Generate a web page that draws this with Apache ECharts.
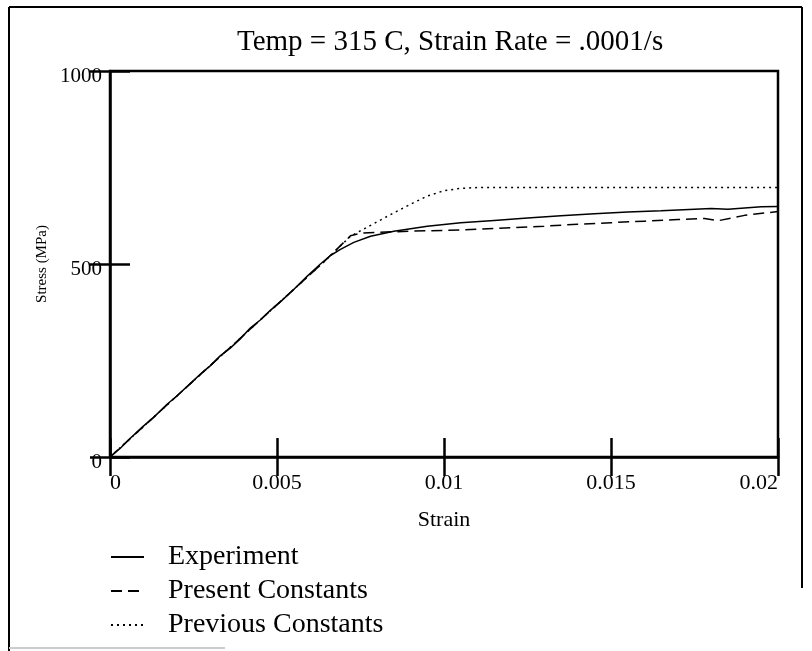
<!DOCTYPE html>
<html>
<head>
<meta charset="utf-8">
<script src="https://cdn.jsdelivr.net/npm/echarts@6/dist/echarts.min.js"></script>
<style>
html,body{margin:0;padding:0;background:#fff;}
#c{width:812px;height:651px;}
</style>
</head>
<body>
<div id="c"></div>
<script>
const titleText = 'Temp = 315 C, Strain Rate = .0001/s';
const xTickLabels = ['0', '0.005', '0.01', '0.015', '0.02'];
const yTickLabels = ['0', '500', '1000'];
const seriesNames = ['Experiment', 'Present Constants', 'Previous Constants'];

const expStrain = [0, 0.0003, 0.0006, 0.001, 0.0013, 0.0017, 0.002, 0.0024, 0.0028, 0.003, 0.0033, 0.0036, 0.0039, 0.0042, 0.0045, 0.0048, 0.0051, 0.0055, 0.0059, 0.0063, 0.0066, 0.0069, 0.0073, 0.0078, 0.0085, 0.0095, 0.0105, 0.0115, 0.0125, 0.0135, 0.0145, 0.0155, 0.0165, 0.0175, 0.018, 0.0185, 0.019, 0.0195, 0.02];
const expStress = [0, 22, 48, 80, 102, 136, 158, 190, 222, 236, 262, 282, 306, 334, 355, 380, 402, 434, 468, 500, 522, 538, 556, 572, 585, 598, 607, 613, 619, 625, 630, 635, 638, 642, 644, 642, 645, 648, 649];

const presStrain = [0, 0.0064, 0.0072, 0.0075, 0.008, 0.009, 0.01, 0.011, 0.012, 0.013, 0.014, 0.015, 0.016, 0.017, 0.0178, 0.0182, 0.019, 0.02];
const presStress = [0, 505, 573, 580, 582, 585, 587, 590, 594, 598, 603, 607, 611, 615, 618, 612, 626, 636];

const prevStrain = [0, 0.0064, 0.0072, 0.0078, 0.0084, 0.009, 0.0095, 0.01, 0.0105, 0.011, 0.02];
const prevStress = [0, 505, 572, 600, 628, 655, 676, 690, 696, 698, 698];

const pairs = (xs, ys) => xs.map((x, i) => [x, ys[i]]);
const FONT = '"Liberation Serif", "Times New Roman", serif';

const chart = echarts.init(document.getElementById('c'), null, {renderer: 'canvas'});
const tickStyle = {show: true, inside: true, length: 19, lineStyle: {color: '#000', width: 2.5}};
chart.setOption({
  animation: false,
  backgroundColor: '#fff',
  title: {
    text: titleText, left: 237, top: 28, padding: 0,
    textStyle: {fontFamily: FONT, fontSize: 29, fontWeight: 'normal', color: '#000', lineHeight: 29}
  },
  grid: {left: 110, top: 71, width: 668, height: 386, show: true, borderColor: '#000', borderWidth: 2.5, backgroundColor: 'transparent'},
  legend: {
    orient: 'vertical', left: 110, top: 543, padding: 0,
    itemWidth: 33, itemHeight: 14, itemGap: 6,
    itemStyle: {opacity: 0},
    data: seriesNames,
    textStyle: {fontFamily: FONT, fontSize: 28, color: '#000', lineHeight: 28, padding: [0, 0, 0, 19]}
  },
  xAxis: [{
    type: 'value', min: 0, max: 0.02, interval: 0.005, position: 'bottom',
    axisLine: {show: true, onZero: false, lineStyle: {color: '#000', width: 2.5}},
    axisTick: tickStyle, splitLine: {show: false},
    axisLabel: {fontFamily: FONT, fontSize: 22, color: '#000', margin: 15,
      alignMinLabel: 'left', alignMaxLabel: 'right',
      formatter: (v, i) => xTickLabels[i]},
    name: 'Strain', nameLocation: 'middle', nameGap: 52,
    nameTextStyle: {fontFamily: FONT, fontSize: 22, color: '#000'}
  }, {
    type: 'value', min: 0, max: 0.02, interval: 0.005, position: 'top',
    axisLine: {show: false}, axisTick: tickStyle, axisLabel: {show: false}, splitLine: {show: false}
  }],
  yAxis: [{
    type: 'value', min: 0, max: 1000, interval: 500, position: 'left',
    axisLine: {show: true, onZero: false, lineStyle: {color: '#000', width: 2.5}},
    axisTick: Object.assign({}, tickStyle, {length: 20}), splitLine: {show: false},
    axisLabel: {fontFamily: FONT, fontSize: 21, color: '#000', margin: 8, verticalAlign: 'top', lineHeight: 10,
      formatter: (v, i) => yTickLabels[i]},
    name: 'Stress (MPa)', nameLocation: 'middle', nameRotate: 90, nameGap: 50,
    nameTextStyle: {fontFamily: FONT, fontSize: 15, color: '#000'}
  }, {
    type: 'value', min: 0, max: 1000, interval: 500, position: 'right',
    axisLine: {show: false}, axisTick: Object.assign({}, tickStyle, {length: 20}), axisLabel: {show: false}, splitLine: {show: false}
  }],
  series: [{
    name: seriesNames[0], type: 'line', symbol: 'none', data: pairs(expStrain, expStress),
    lineStyle: {color: '#000', width: 1.5, type: 'solid'}, itemStyle: {color: '#000'}
  }, {
    name: seriesNames[1], type: 'line', symbol: 'none', data: pairs(presStrain, presStress),
    lineStyle: {color: '#000', width: 1.5, type: [11, 6]}, itemStyle: {color: '#000'}
  }, {
    name: seriesNames[2], type: 'line', symbol: 'none', data: pairs(prevStrain, prevStress),
    lineStyle: {color: '#000', width: 1.5, type: [2, 4]}, itemStyle: {color: '#000'}
  }],
  graphic: [
    {type: 'line', shape: {x1: 9, y1: 7, x2: 802, y2: 7}, style: {stroke: '#000', lineWidth: 2}, silent: true},
    {type: 'line', shape: {x1: 9, y1: 7, x2: 9, y2: 651}, style: {stroke: '#000', lineWidth: 2}, silent: true},
    {type: 'line', shape: {x1: 802, y1: 7, x2: 802, y2: 588}, style: {stroke: '#000', lineWidth: 2}, silent: true},
    {type: 'line', shape: {x1: 9, y1: 648, x2: 225, y2: 648}, style: {stroke: '#ccc', lineWidth: 2}, silent: true}
  ]
});
</script>
</body>
</html>
